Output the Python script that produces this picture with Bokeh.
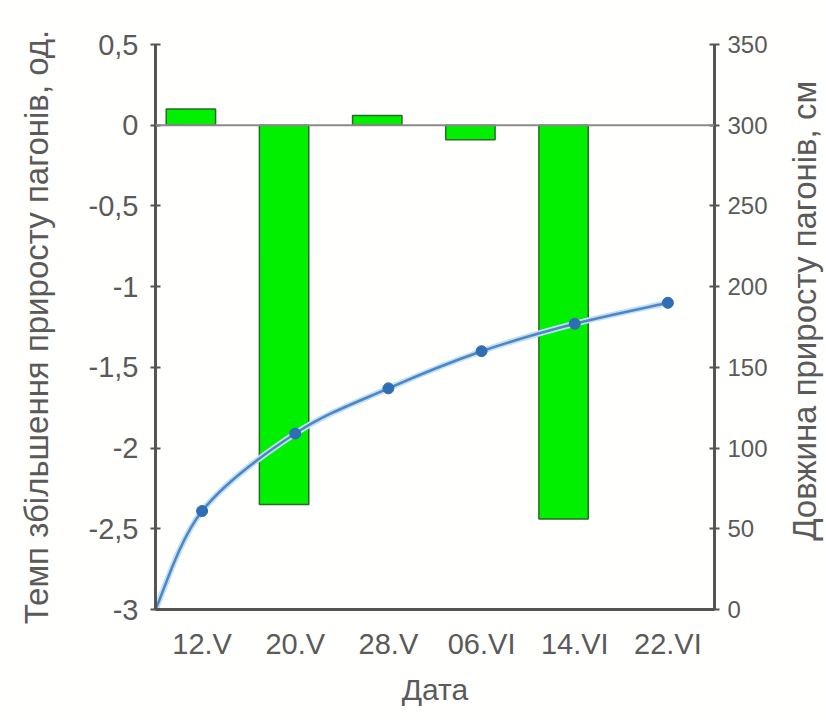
import math
from bokeh.plotting import figure
from bokeh.layouts import row
from bokeh.models import Range1d, LinearAxis, FixedTicker, Span, ColumnDataSource
from bokeh.core.properties import value
from bokeh.transform import dodge
from bokeh.embed import file_html
from bokeh.resources import INLINE

# ---- data ----
dates = ["12.V", "20.V", "28.V", "06.VI", "14.VI", "22.VI"]
rate = [0.1, -2.35, 0.06, -0.09, -2.44, float("nan")]  # left axis, од. (no bar on 22.VI)
length = [61, 109, 137, 160, 177, 190]                 # right axis, см
start_length = 0                                       # origin of the growth curve
left_ticks = [-3, -2.5, -2, -1.5, -1, -0.5, 0, 0.5]
left_labels = ["-3", "-2,5", "-2", "-1,5", "-1", "-0,5", "0", "0,5"]
right_ticks = [0, 50, 100, 150, 200, 250, 300, 350]
right_title = "Довжина приросту пагонів, см"

FONT = "Liberation Sans"
TXT = "#5a5a5a"
AX = "#555555"
H = 717

xpos = [i + 0.5 for i in range(len(dates))]

p = figure(width=783, height=H, x_range=Range1d(0, len(dates)),
           y_range=Range1d(-3, 0.5), output_backend="svg", toolbar_location=None,
           min_border_left=155, min_border_right=69, min_border_top=44,
           min_border_bottom=108)
p.extra_y_ranges = {"len": Range1d(0, 350)}
p.background_fill_color = "#fffffd"
p.border_fill_color = "#fffffd"
p.outline_line_color = None
p.grid.visible = False

# zero line
p.add_layout(Span(location=0, dimension="width", line_color="#8a8a8a", line_width=2))

# bars
src = ColumnDataSource(dict(x=xpos, top=rate))
p.vbar(x=dodge("x", -0.12), top="top", bottom=0, width=0.53, source=src,
       fill_color="#00f000", line_color="#2a6a2a", line_width=1.5)

# smooth growth curve (Catmull-Rom through the data points)
lx = [0] + xpos
ly = [start_length] + length
n = len(lx)
x0, y0, x1, y1, cx0, cy0, cx1, cy1 = ([] for _ in range(8))
for i in range(n - 1):
    xm, ym = (lx[i - 1], ly[i - 1]) if i > 0 else (lx[i], ly[i])
    xp, yp = (lx[i + 2], ly[i + 2]) if i + 2 < n else (lx[i + 1], ly[i + 1])
    x0.append(lx[i]); y0.append(ly[i]); x1.append(lx[i + 1]); y1.append(ly[i + 1])
    cx0.append(lx[i] + (lx[i + 1] - xm) / 6); cy0.append(ly[i] + (ly[i + 1] - ym) / 6)
    cx1.append(lx[i + 1] - (xp - lx[i]) / 6); cy1.append(ly[i + 1] - (yp - ly[i]) / 6)
p.bezier(x0=x0, y0=y0, x1=x1, y1=y1, cx0=cx0, cy0=cy0, cx1=cx1, cy1=cy1,
         line_color="#bfe0f7", line_width=6, y_range_name="len")
p.bezier(x0=x0, y0=y0, x1=x1, y1=y1, cx0=cx0, cy0=cy0, cx1=cx1, cy1=cy1,
         line_color="#4f86c0", line_width=2.5, y_range_name="len")
p.scatter(xpos, length, size=11, marker="circle", fill_color="#2f6db5",
          line_color="#2f6db5", y_range_name="len")

# axes
xa = p.xaxis[0]
xa.ticker = FixedTicker(ticks=xpos)
xa.major_label_overrides = {x: d for x, d in zip(xpos, dates)}
xa.axis_label = "Дата"
xa.minor_tick_line_color = None

ya = p.yaxis[0]
ya.ticker = FixedTicker(ticks=left_ticks)
ya.major_label_overrides = {t: l for t, l in zip(left_ticks, left_labels)}
ya.axis_label = "Темп збільшення приросту пагонів, од."
ya.minor_tick_line_color = None

ra = LinearAxis(y_range_name="len", ticker=FixedTicker(ticks=right_ticks))
ra.minor_tick_line_color = None
p.add_layout(ra, "right")

for ax in (xa, ya, ra):
    ax.axis_line_color = AX
    ax.axis_line_width = 3
    ax.major_tick_line_color = AX
    ax.major_tick_line_width = 2
    ax.major_tick_in = 5
    ax.major_tick_out = 5
    ax.major_label_text_font = FONT
    ax.major_label_text_color = TXT
    ax.axis_label_text_font = FONT
    ax.axis_label_text_color = TXT
    ax.axis_label_text_font_style = "normal"
xa.major_tick_line_color = None
xa.major_tick_out = 0
xa.major_tick_in = 0

xa.major_label_text_font_size = "29px"
xa.major_label_standoff = 18
xa.axis_label_text_font_size = "30px"
xa.axis_label_standoff = 10

ya.major_label_text_font_size = "29px"
ya.major_label_standoff = 12
ya.axis_label_text_font_size = "33px"
ya.axis_label_standoff = 31

ra.major_label_text_font_size = "24px"
ra.major_label_standoff = 8

# narrow companion panel that carries the right-hand axis title (bottom-to-top)
t = figure(width=42, height=H, x_range=Range1d(0, 1), y_range=p.y_range,
           output_backend="svg", toolbar_location=None, min_border_left=0,
           min_border_right=0, min_border_top=44, min_border_bottom=108)
t.axis.visible = False
t.grid.visible = False
t.outline_line_color = None
t.background_fill_color = "#fffffd"
t.border_fill_color = "#fffffd"
t.text(x=[0.5], y=[-1.15], text=[right_title], angle=math.pi / 2,
       text_align="center", text_baseline="middle", text_font=value(FONT),
       text_font_size="33px", text_color=TXT)

layout = row(p, t)
open("out.html", "w").write(file_html(layout, INLINE))
